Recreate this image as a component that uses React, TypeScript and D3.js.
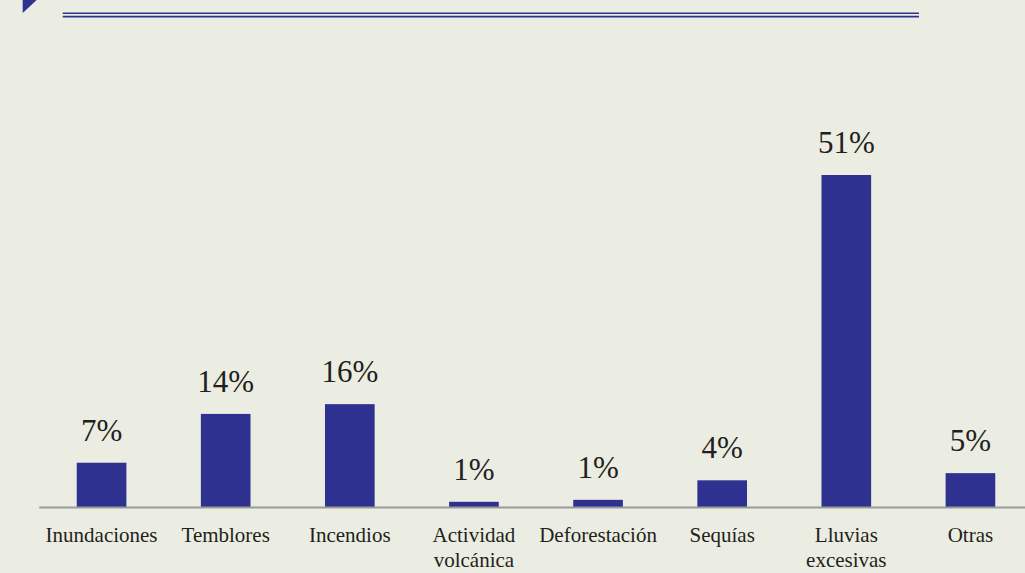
import React from "react";
import * as d3 from "d3";

const categories: string[][] = [
  ["Inundaciones"],
  ["Temblores"],
  ["Incendios"],
  ["Actividad", "volcánica"],
  ["Deforestación"],
  ["Sequías"],
  ["Lluvias", "excesivas"],
  ["Otras"],
];
const values: number[] = [6.8, 14.3, 15.8, 0.8, 1.1, 4.1, 51, 5.2];
const valueLabels: string[] = ["7%", "14%", "16%", "1%", "1%", "4%", "51%", "5%"];

const W = 1025;
const H = 573;
const BG = "#ECEDE2";
const BLUE = "#2E3190";
const TEXT = "#231F20";
const FONT = "'Liberation Serif', 'Times New Roman', serif";

export default function App() {
  const ids = categories.map((_, i) => String(i));
  const x = d3.scaleBand<string>().domain(ids).range([39.5, 1032.5]).paddingInner(0.6).paddingOuter(0.3);
  const y = d3.scaleLinear().domain([0, 51]).range([507, 175]);

  return (
    <svg
      width={W}
      height={H}
      style={{ position: "absolute", left: 0, top: 0, display: "block" }}
    >
      <rect x={0} y={0} width={W} height={H} fill={BG} />
      {/* header decoration */}
      <path d="M22.7,0 L36.7,0 L22.7,13 Z" fill={BLUE} />
      <line x1={62.7} x2={919} y1={13.2} y2={13.2} stroke={BLUE} strokeWidth={1.6} />
      <line x1={62.7} x2={919} y1={16.6} y2={16.6} stroke={BLUE} strokeWidth={1.8} />

      {values.map((v, i) => {
        const bx = x(String(i))!;
        const top = y(v);
        const cx = bx + x.bandwidth() / 2;
        return (
          <g key={i}>
            <rect x={bx} y={top} width={x.bandwidth()} height={y(0) - top} fill={BLUE} />
            <text
              x={cx}
              y={top - 22}
              textAnchor="middle"
              fontFamily={FONT}
              fontSize={31}
              fill={TEXT}
            >
              {valueLabels[i]}
            </text>
            {categories[i].map((line, j) => (
              <text
                key={j}
                x={cx}
                y={541.5 + j * 25}
                textAnchor="middle"
                fontFamily={FONT}
                fontSize={21}
                fill={TEXT}
              >
                {line}
              </text>
            ))}
          </g>
        );
      })}
      <line x1={39.3} x2={W} y1={507.5} y2={507.5} stroke="#9A9A9A" strokeWidth={1.8} />
    </svg>
  );
}
